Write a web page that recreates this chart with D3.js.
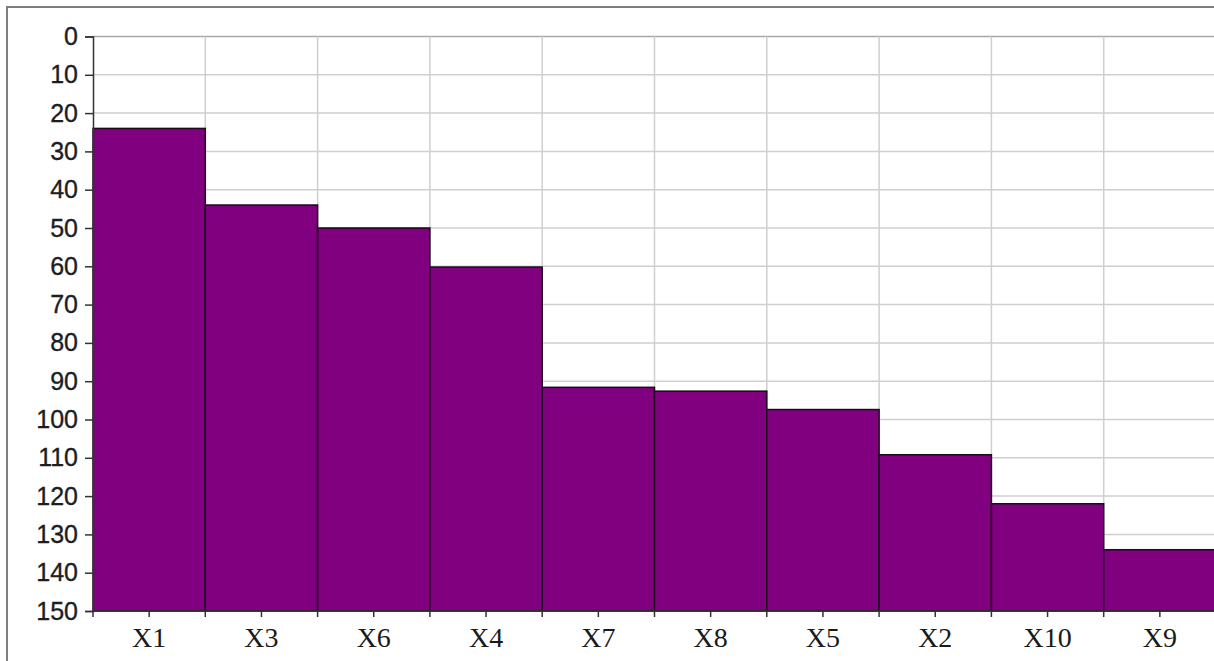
<!DOCTYPE html>
<html>
<head>
<meta charset="utf-8">
<script src="https://cdn.jsdelivr.net/npm/d3@7"></script>
<style>
  body { margin: 0; background: #ffffff; }
</style>
</head>
<body>
<script>
// data
var CATEGORIES = ["X1", "X3", "X6", "X4", "X7", "X8", "X5", "X2", "X10", "X9"];
var VALUES = [24, 44, 50, 60.2, 91.6, 92.6, 97.4, 109.2, 122, 134];
var Y_TICKS = [0, 10, 20, 30, 40, 50, 60, 70, 80, 90, 100, 110, 120, 130, 140, 150];

var WIDTH = 1214, HEIGHT = 661;
var PLOT_LEFT = 93, PLOT_TOP = 36.5, PLOT_BOTTOM = 611;
var BAR_W = 112.3;
var BAR_COLOR = "#800080";
var GRID_COLOR = "#cfcfcf";

var svg = d3.select("body").append("svg")
    .attr("width", WIDTH)
    .attr("height", HEIGHT);

// outer frame
svg.append("rect")
    .attr("x", 7).attr("y", 7)
    .attr("width", WIDTH + 20).attr("height", HEIGHT + 20)
    .attr("fill", "#ffffff")
    .attr("stroke", "#7f7f7f")
    .attr("stroke-width", 2);

var x = d3.scaleBand()
    .domain(CATEGORIES)
    .range([PLOT_LEFT, PLOT_LEFT + BAR_W * CATEGORIES.length])
    .padding(0);

// inverted axis: 0 at top, 150 at bottom
var y = d3.scaleLinear()
    .domain([0, 150])
    .range([PLOT_TOP, PLOT_BOTTOM]);

// horizontal grid
svg.append("g")
  .selectAll("line")
  .data(Y_TICKS)
  .join("line")
    .attr("x1", PLOT_LEFT)
    .attr("x2", x.range()[1])
    .attr("y1", function(d) { return y(d); })
    .attr("y2", function(d) { return y(d); })
    .attr("stroke", function(d) { return d === 0 ? "#a8a8a8" : GRID_COLOR; })
    .attr("stroke-width", 1.5);

// vertical grid at category boundaries
svg.append("g")
  .selectAll("line")
  .data(CATEGORIES.slice(1))
  .join("line")
    .attr("x1", function(d) { return x(d); })
    .attr("x2", function(d) { return x(d); })
    .attr("y1", PLOT_TOP)
    .attr("y2", PLOT_BOTTOM)
    .attr("stroke", GRID_COLOR)
    .attr("stroke-width", 1.5);

// bars run from the value down to the bottom of the axis
svg.append("g")
  .selectAll("rect")
  .data(VALUES)
  .join("rect")
    .attr("x", function(d, i) { return x(CATEGORIES[i]); })
    .attr("y", function(d) { return y(d); })
    .attr("width", x.bandwidth())
    .attr("height", function(d) { return y(150) - y(d); })
    .attr("fill", BAR_COLOR)
    .attr("stroke", "#1a0a1a")
    .attr("stroke-width", 1.5);

// y axis
var yAxis = svg.append("g")
    .attr("transform", "translate(" + PLOT_LEFT + ",0)")
    .call(d3.axisLeft(y).tickValues(Y_TICKS).tickSize(8).tickPadding(7));
yAxis.select(".domain").attr("stroke", "#333").attr("stroke-width", 1.5);
yAxis.selectAll(".tick line").attr("stroke", "#333").attr("stroke-width", 1.5);
yAxis.selectAll("text")
    .attr("font-family", "Liberation Sans")
    .attr("font-size", 25)
    .attr("fill", "#1e1e1e")
    .attr("stroke", "#1e1e1e")
    .attr("stroke-width", 0.35);

// x axis: ticks at boundaries and centres
var xAxisG = svg.append("g");
xAxisG.append("line")
    .attr("x1", PLOT_LEFT).attr("x2", x.range()[1])
    .attr("y1", PLOT_BOTTOM).attr("y2", PLOT_BOTTOM)
    .attr("stroke", "#333").attr("stroke-width", 1.5);

var tickXs = [];
CATEGORIES.forEach(function(c) {
  tickXs.push(x(c));
  tickXs.push(x(c) + x.bandwidth() / 2);
});
xAxisG.selectAll("line.tk")
  .data(tickXs)
  .join("line")
    .attr("class", "tk")
    .attr("x1", function(d) { return d; })
    .attr("x2", function(d) { return d; })
    .attr("y1", PLOT_BOTTOM)
    .attr("y2", PLOT_BOTTOM + 6)
    .attr("stroke", "#333").attr("stroke-width", 1.5);

xAxisG.selectAll("text")
  .data(CATEGORIES)
  .join("text")
    .attr("x", function(d) { return x(d) + x.bandwidth() / 2; })
    .attr("y", 647)
    .attr("text-anchor", "middle")
    .attr("font-family", "Liberation Serif")
    .attr("font-size", 28)
    .attr("fill", "#1a1a1a")
    .text(function(d) { return d; });
</script>
</body>
</html>
